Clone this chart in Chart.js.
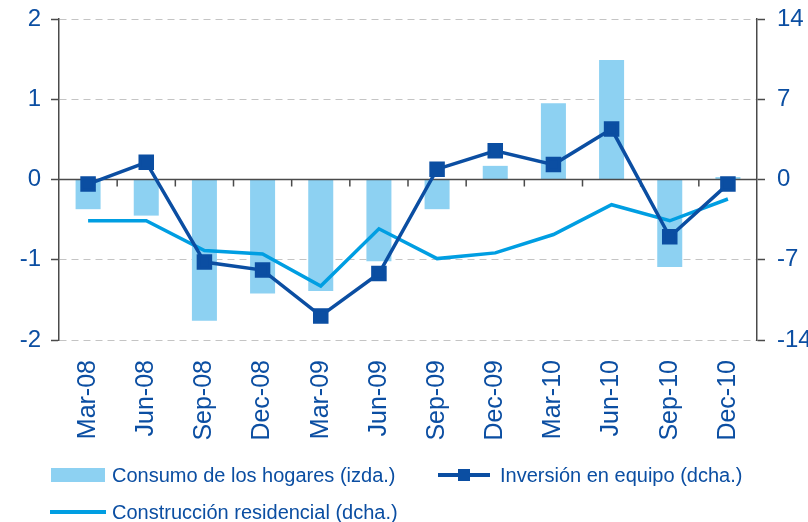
<!DOCTYPE html>
<html>
<head>
<meta charset="utf-8">
<script src="https://cdn.jsdelivr.net/npm/chart.js@4.4.1/dist/chart.umd.min.js"></script>
<style>
  body { margin: 0; background: #fff; }
  #wrap { position: relative; width: 808px; height: 522px; }
  .leg { position: absolute; font-family: 'Liberation Sans', Arial, sans-serif; font-size: 20px; color: #0B4EA2; white-space: nowrap; line-height: 20px; }
  .sym { position: absolute; }
</style>
</head>
<body>
<div id="wrap">
  <canvas id="chart" width="808" height="522"></canvas>
  <div class="sym" style="left:51px;top:468px;width:54px;height:14px;background:#8DD1F2"></div>
  <div class="leg" style="left:112px;top:465px">Consumo de los hogares (izda.)</div>
  <div class="sym" style="left:438px;top:473px;width:52px;height:4px;background:#0B4EA2"></div>
  <div class="sym" style="left:458px;top:469px;width:12px;height:12px;background:#0B4EA2"></div>
  <div class="leg" style="left:500px;top:465px">Inversión en equipo (dcha.)</div>
  <div class="sym" style="left:50px;top:510px;width:56px;height:4px;background:#009EE2"></div>
  <div class="leg" style="left:112px;top:502px">Construcción residencial (dcha.)</div>
</div>
<script>
var categories = ['Mar-08', 'Jun-08', 'Sep-08', 'Dec-08', 'Mar-09', 'Jun-09', 'Sep-09', 'Dec-09', 'Mar-10', 'Jun-10', 'Sep-10', 'Dec-10'];
var consumo = [-0.37, -0.45, -1.76, -1.42, -1.39, -1.02, -0.37, 0.17, 0.95, 1.49, -1.09, 0.03];
var inversion = [-0.4, 1.5, -7.2, -7.9, -11.9, -8.2, 0.9, 2.5, 1.3, 4.4, -5.0, -0.4];
var construccion = [-3.6, -3.6, -6.2, -6.5, -9.3, -4.3, -6.9, -6.4, -4.8, -2.2, -3.6, -1.7];
var leftTicks = [-2, -1, 0, 1, 2];
var rightTicks = [-14, -7, 0, 7, 14];

var blue = '#0B4EA2';
var axisGrey = '#4a4a4a';

// zero line with small ticks between the categories, drawn right after the bars
var zeroLine = {
    id: 'zeroLine',
    afterDatasetDraw: function (chart, args) {
        if (args.index !== 0) return;
        var ctx = chart.ctx, area = chart.chartArea, x = chart.scales.x;
        var y0 = chart.scales.y.getPixelForValue(0);
        ctx.save();
        ctx.strokeStyle = axisGrey;
        ctx.lineWidth = 1.5;
        ctx.beginPath();
        ctx.moveTo(area.left, y0);
        ctx.lineTo(area.right, y0);
        for (var i = 1; i < categories.length; i++) {
            var xb = (x.getPixelForValue(i - 1) + x.getPixelForValue(i)) / 2;
            ctx.moveTo(xb, y0);
            ctx.lineTo(xb, y0 + 7);
        }
        ctx.stroke();
        ctx.restore();
    }
};

function fixY(width) {
    return function (scale) {
        scale.width = width;
        scale.paddingTop = 0;
        scale.paddingBottom = 0;
    };
}

var ctx = document.getElementById('chart').getContext('2d');
var myChart = new Chart(ctx, {
    type: 'bar',
    data: {
        labels: categories,
        datasets: [{
            type: 'bar',
            label: 'Consumo de los hogares (izda.)',
            data: consumo,
            backgroundColor: '#8DD1F2',
            yAxisID: 'y',
            barPercentage: 0.43,
            categoryPercentage: 1,
            order: 3
        }, {
            type: 'line',
            label: 'Inversión en equipo (dcha.)',
            data: inversion,
            borderColor: blue,
            backgroundColor: blue,
            borderWidth: 3.5,
            pointStyle: 'rect',
            pointRadius: 8.5,
            pointHoverRadius: 8.5,
            tension: 0,
            yAxisID: 'y1',
            order: 1
        }, {
            type: 'line',
            label: 'Construcción residencial (dcha.)',
            data: construccion,
            borderColor: '#009EE2',
            backgroundColor: '#009EE2',
            borderWidth: 3.5,
            pointRadius: 0,
            tension: 0,
            yAxisID: 'y1',
            order: 2
        }]
    },
    options: {
        responsive: false,
        animation: false,
        layout: { padding: { top: 19, bottom: 74, left: 0, right: 0 } },
        plugins: {
            legend: { display: false },
            tooltip: { enabled: false }
        },
        scales: {
            x: {
                grid: { display: false, drawTicks: false },
                border: { display: false },
                ticks: {
                    minRotation: 90,
                    maxRotation: 90,
                    padding: 20,
                    color: blue,
                    font: { family: "'Liberation Sans', Arial, sans-serif", size: 25 }
                },
                afterFit: function (scale) { scale.height = 108; }
            },
            y: {
                position: 'left',
                min: -2,
                max: 2,
                afterBuildTicks: function (scale) {
                    scale.ticks = leftTicks.map(function (v) { return { value: v }; });
                },
                grid: {
                    color: function (c) { return c.tick && c.tick.value === 0 ? 'rgba(0,0,0,0)' : '#c4c4c4'; },
                    lineWidth: 1,
                    tickLength: 8,
                    tickColor: axisGrey,
                    tickWidth: 1.5
                },
                border: { display: true, color: axisGrey, width: 1.5, dash: [7, 5] },
                ticks: {
                    padding: 10,
                    color: blue,
                    font: { family: "'Liberation Sans', Arial, sans-serif", size: 24 }
                },
                afterFit: fixY(59)
            },
            y1: {
                position: 'right',
                min: -14,
                max: 14,
                afterBuildTicks: function (scale) {
                    scale.ticks = rightTicks.map(function (v) { return { value: v }; });
                },
                grid: {
                    drawOnChartArea: false,
                    tickLength: 8,
                    tickColor: axisGrey,
                    tickWidth: 1.5
                },
                border: { display: true, color: axisGrey, width: 1.5 },
                ticks: {
                    padding: 12,
                    color: blue,
                    font: { family: "'Liberation Sans', Arial, sans-serif", size: 24 }
                },
                afterFit: fixY(51)
            }
        }
    },
    plugins: [zeroLine]
});
</script>
</body>
</html>
